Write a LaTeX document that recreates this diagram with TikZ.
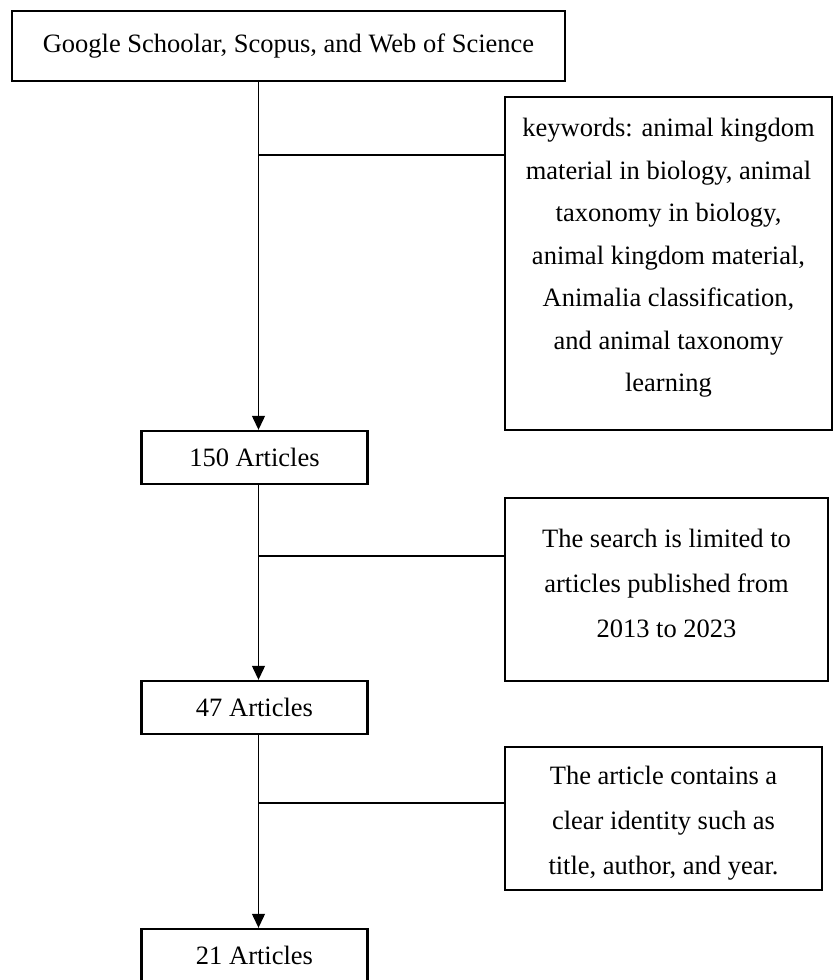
\documentclass[tikz,border=0pt]{standalone}
\usepackage{fontspec}
\setmainfont{Liberation Serif}
\usepackage{tikz}
\usetikzlibrary{arrows.meta,positioning,calc}
\tikzset{
  flowbox/.style={draw=black, line width=1.2pt, align=center, inner sep=0pt,
    font=\fontsize{13.25}{22.5}\selectfont},
  stagebox/.style={flowbox, minimum width=113pt, minimum height=26.5pt},
  notebox/.style={flowbox},
  flowarrow/.style={-{Triangle[length=7pt,width=6.5pt]}, line width=0.6pt},
  sideline/.style={line width=0.6pt}
}

\begin{document}
\begin{tikzpicture}[x=0.5pt, y=-0.5pt]
    \useasboundingbox (0,0) rectangle (833,980);
    % main column
    \node[flowbox, minimum width=276.5pt, minimum height=35pt] (src) at (288.5,46) {Google Schoolar, Scopus, and Web of Science};
    \node[stagebox] (n150) at (254.5,457.5) {150 Articles};
    \node[stagebox] (n47) at (254.5,707.5) {47 Articles};
    \node[stagebox] (n21) at (254.5,955.5) {21 Articles};
    % criteria on the right
    \node[notebox, font=\fontsize{13.25}{21.25}\selectfont, minimum width=163.5pt, minimum height=166.5pt] (kw) at (668.5,263.5)
      {keywords: animal kingdom\\material in biology, animal\\taxonomy in biology,\\animal kingdom material,\\Animalia classification,\\and animal taxonomy\\learning\rule[-8.5pt]{0pt}{0pt}};
    \node[notebox, minimum width=161.5pt, minimum height=91.5pt] (lim) at (666.5,589.5)
      {The search is limited to\\articles published from\\2013 to 2023\rule[-6pt]{0pt}{0pt}};
    \node[notebox, minimum width=158.5pt, minimum height=71.5pt] (ident) at (663.5,818.5)
      {\rule{0pt}{14pt}The article contains a\\clear identity such as\\title, author, and year.};
    \coordinate (spine) at (258.5,0);
    \coordinate (tap1) at (258.5,155);
    \coordinate (tap2) at (258.5,556);
    \coordinate (tap3) at (258.5,803);
    \draw[flowarrow] (src.south -| spine) -- (n150.north -| spine);
    \draw[flowarrow] (n150.south -| spine) -- (n47.north -| spine);
    \draw[flowarrow] (n47.south -| spine) -- (n21.north -| spine);
    \draw[sideline] (tap1) -- (tap1 -| kw.west);
    \draw[sideline] (tap2) -- (tap2 -| lim.west);
    \draw[sideline] (tap3) -- (tap3 -| ident.west);
\end{tikzpicture}
\end{document}
